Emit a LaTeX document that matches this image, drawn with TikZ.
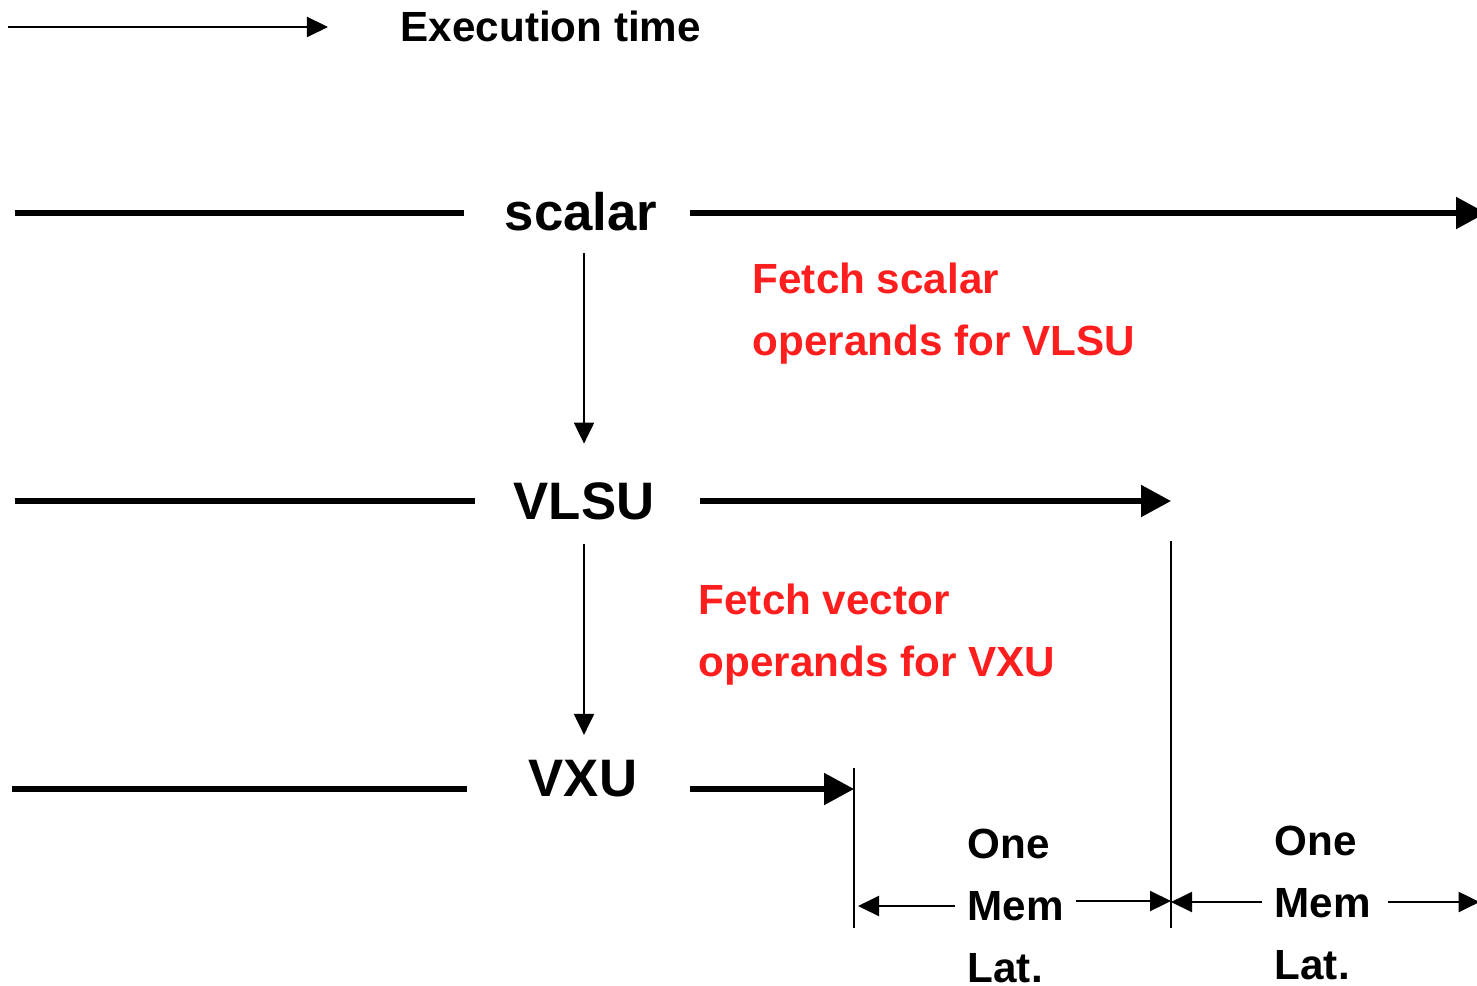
\documentclass[tikz,border=0pt]{standalone}
\usepackage{fontspec}
\setmainfont{Liberation Sans}
\usetikzlibrary{arrows.meta}
\definecolor{notered}{RGB}{255,30,30}

\begin{document}
\begin{tikzpicture}[x=0.01cm,y=-0.01cm,
	unit/.style={font=\fontsize{15}{18}\selectfont\bfseries, inner sep=0pt},
	note/.style={font=\fontsize{12}{17.6}\selectfont\bfseries, text=notered, align=left, anchor=west, inner sep=0pt},
	lat/.style={font=\fontsize{12}{17.6}\selectfont\bfseries, align=left, anchor=west, inner sep=0pt},
	track/.style={line width=1.5pt},
	fwd/.style={-{Triangle[length=0.3cm,width=0.31cm]}},
	thin/.style={line width=0.6pt, -{Triangle[length=0.21cm,width=0.2cm]}}]
				\useasboundingbox (0,0) rectangle (1477,985);
				
				% legend
				\draw[thin] (8,27) -- (328,27);
				\node[lat] (legend) at (400,26) {Execution time};
				
				% units
				\node[unit] (scalar) at (581,212) {scalar};
				\node[unit] (vlsu) at (584,501) {VLSU};
				\node[unit] (vxu) at (583,779) {VXU};
				
				\draw[track] (15,213) -- (464,213);
				\draw[track,fwd] (690,213) -- (1486,213);
				\draw[track] (15,501) -- (475,501);
				\draw[track,fwd] (700,501) -- (1171,501);
				\draw[track] (12,789) -- (467,789);
				\draw[track,fwd] (690,789) -- (854,789);
				
				\draw[thin, shorten <=0.21cm, shorten >=0.38cm] (scalar.south -| vlsu) -- (vlsu.north);
				\draw[thin, shorten <=0.24cm, shorten >=0.25cm] (vlsu.south) -- (vxu.north -| vlsu);
				
				\node[note] (fetchs) at (752,314) {Fetch scalar\\operands for VLSU};
				\node[note] (fetchv) at (698,635) {Fetch vector\\operands for VXU};
				
				% memory latency
				\coordinate (vxuend) at (854,928);
				\coordinate (vlsuend) at (1171,928);
				\draw[line width=0.6pt] (854,768) -- (vxuend);
				\draw[line width=0.6pt] (1171,541) -- (vlsuend);
				
				\node[lat] (lat1) at (967,906) {One\\Mem\\Lat.};
				\node[lat] (lat2) at (1274,903) {One\\Mem\\Lat.};
				
				\draw[thin] ([xshift=-0.12cm]lat1.west) -- ([xshift=0.04cm]vxuend |- lat1.west);
				\draw[thin] ([xshift=0.11cm,yshift=0.05cm]lat1.east) -- ([yshift=0.05cm]vlsuend |- lat1.east);
				\draw[thin] ([xshift=-0.12cm,yshift=0.01cm]lat2.west) -- ([yshift=0.01cm]vlsuend |- lat2.west);
				\draw[thin] ([xshift=0.16cm,yshift=0.01cm]lat2.east) -- ++(0.92cm,0);
			\end{tikzpicture}
\end{document}
